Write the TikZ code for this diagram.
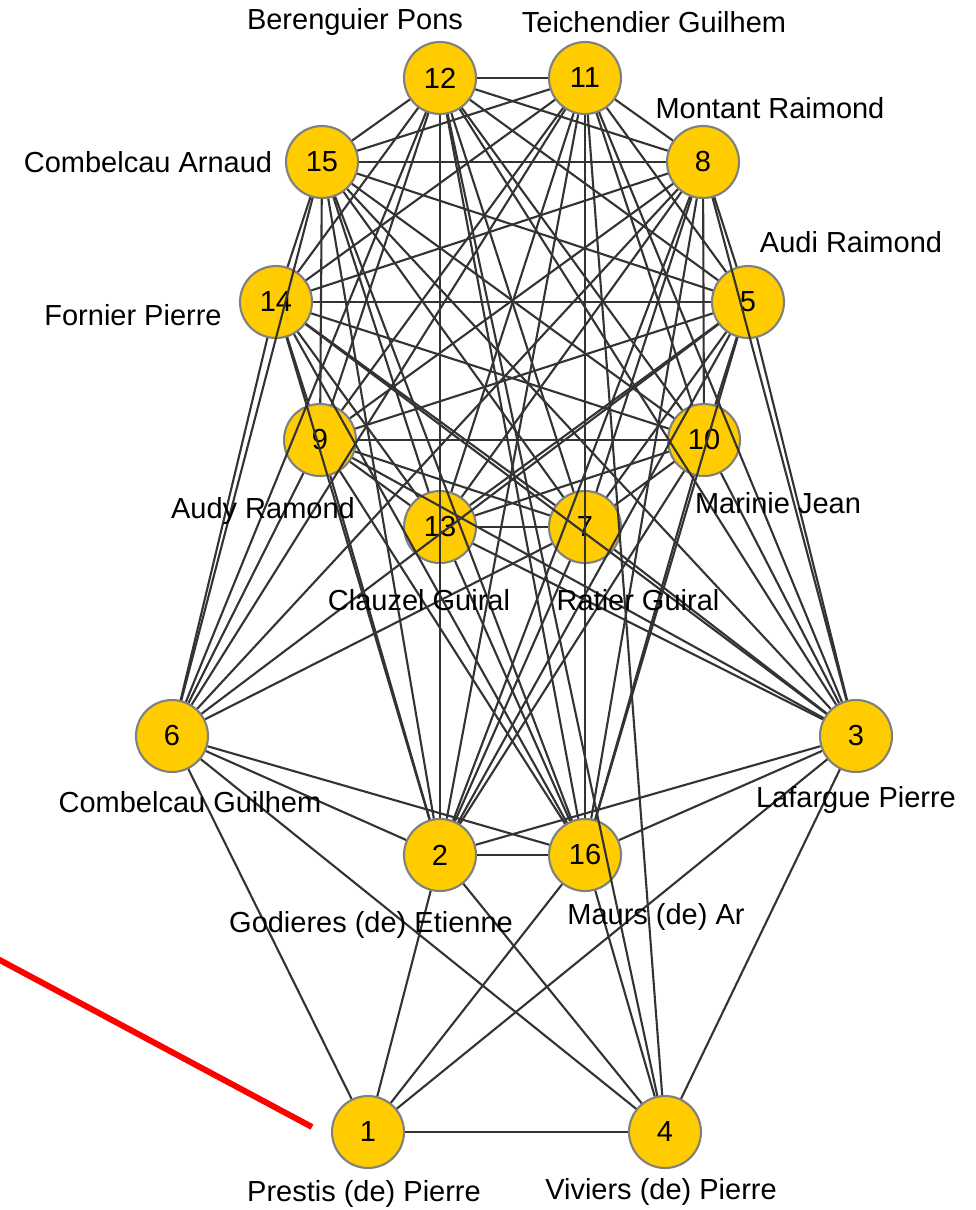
\documentclass[tikz,border=0pt]{standalone}
\usepackage{fontspec}
\setmainfont{Liberation Sans}
\usepackage{xcolor}
\definecolor{nodegold}{HTML}{FFCC00}
\definecolor{rimgray}{HTML}{808080}
\definecolor{tiegray}{HTML}{333333}

\begin{document}
\begin{tikzpicture}[
  x=0.02cm, y=-0.02cm,
  font=\fontsize{16.5}{19}\selectfont,
  person/.style={circle, draw=rimgray, line width=1.2pt, fill=nodegold,
                 minimum size=1.44cm, inner sep=0pt},
  tie/.style={draw=tiegray, line width=1.2pt},
  plabel/.style={inner sep=0pt, text=black},
  pointer/.style={draw=red, line width=3.4pt},
]
\useasboundingbox (0,0) rectangle (976,1210);

% --- upper block ---
\node[person] (n12) at (440,78)  {12};
\node[person] (n11) at (585,78)  {11};
\node[person] (n15) at (322,162) {15};
\node[person] (n8)  at (703,162) {8};
\node[person] (n14) at (276,302) {14};
\node[person] (n5)  at (748,302) {5};
\node[person] (n9)  at (320,440) {9};
\node[person] (n10) at (704,440) {10};
\node[person] (n13) at (440,527) {13};
\node[person] (n7)  at (585,527) {7};

% --- lower block ---
\node[person] (n6)  at (172,736) {6};
\node[person] (n3)  at (856,736) {3};
\node[person] (n2)  at (440,855) {2};
\node[person] (n16) at (585,855) {16};
\node[person] (n1)  at (368,1132) {1};
\node[person] (n4)  at (665,1132) {4};

% =========================================================
% ties among the upper ten
% =========================================================
\foreach \b in {11,15,8,14,5,9,10,13,7} \draw[tie] (n12) -- (n\b);
\foreach \b in {15,8,14,5,9,10,13,7} \draw[tie] (n11) -- (n\b);
\foreach \b in {8,14,5,9,10,13,7} \draw[tie] (n15) -- (n\b);
\foreach \b in {14,5,9,10,13,7} \draw[tie] (n8) -- (n\b);
\foreach \b in {5,9,10,13,7} \draw[tie] (n14) -- (n\b);
\foreach \b in {9,10,13,7} \draw[tie] (n5) -- (n\b);
\foreach \b in {10,13,7} \draw[tie] (n9) -- (n\b);
\foreach \b in {13,7} \draw[tie] (n10) -- (n\b);
\draw[tie] (n13) -- (n7);

% =========================================================
% ties of the lower six
% =========================================================
\foreach \b in {14,15,12,9,11,8,5,7,2,16,1,4} \draw[tie] (n6) -- (n\b);
\foreach \b in {8,5,11,10,12,15,14,7,9,13,16,2,1,4} \draw[tie] (n3) -- (n\b);
\foreach \b in {14,9,15,12,13,11,8,7,5,10,16,1,4} \draw[tie] (n2) -- (n\b);
\foreach \b in {9,14,13,15,12,11,7,8,5,10,1,4} \draw[tie] (n16) -- (n\b);
\foreach \b in {1,12,11} \draw[tie] (n4) -- (n\b);

% --- names ---
\node[plabel] (l12) at (355,22)   {Berenguier Pons};
\node[plabel] (l11) at (654,22)   {Teichendier Guilhem};
\node[plabel] (l8)  at (770,108)  {Montant Raimond};
\node[plabel] (l15) at (148,162)  {Combelcau Arnaud};
\node[plabel] (l5)  at (851,242)  {Audi Raimond};
\node[plabel] (l14) at (133,315)  {Fornier Pierre};
\node[plabel] (l9)  at (263,511)  {Audy Ramond};
\node[plabel] (l10) at (778,503)  {Marinie Jean};
\node[plabel] (l13) at (419,600)  {Clauzel Guiral};
\node[plabel] (l7)  at (638,600)  {Ratier Guiral};
\node[plabel] (l6)  at (190,802)  {Combelcau Guilhem};
\node[plabel] (l3)  at (856,800)  {Lafargue Pierre};
\node[plabel] (l2)  at (371,925)  {Godieres (de) Etienne};
\node[plabel] (l16) at (656,917)  {Maurs (de) Ar};
\node[plabel] (l1)  at (364,1194) {Prestis (de) Pierre};
\node[plabel] (l4)  at (661,1192) {Viviers (de) Pierre};

% --- red pointer ---
\coordinate (ptail) at (-4,958);
\coordinate (ptip)  at (312,1127);
\draw[pointer] (ptail) -- (ptip);

\end{tikzpicture}
\end{document}
